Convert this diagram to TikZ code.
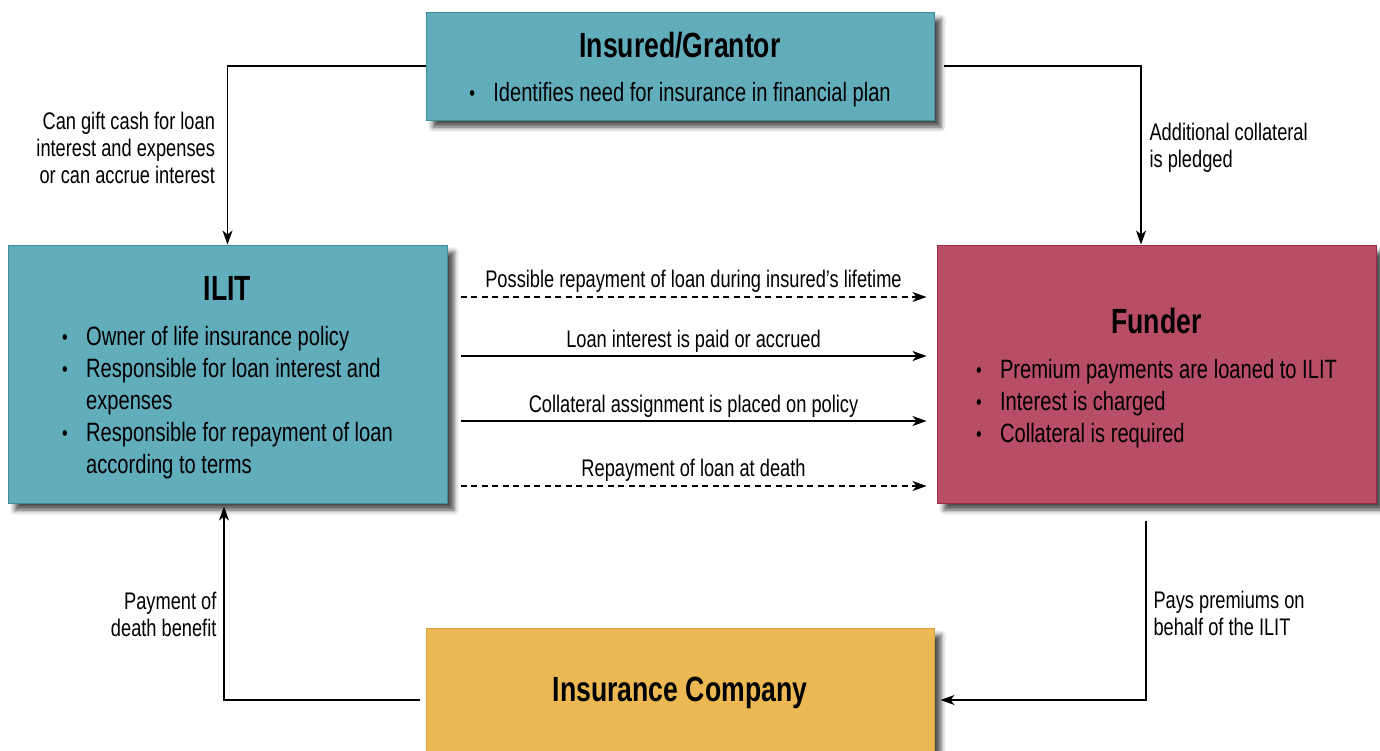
\documentclass[tikz,border=0pt]{standalone}
\usepackage{fontspec}
\setmainfont{Liberation Sans}[FakeStretch=0.76]
\usetikzlibrary{arrows.meta,shadows.blur,positioning}

\definecolor{ilitteal}{HTML}{62ADBB}
\definecolor{ilitedge}{HTML}{3E8C9A}
\definecolor{funderred}{HTML}{B84D66}
\definecolor{funderedge}{HTML}{9E2A4A}
\definecolor{insgold}{HTML}{EBB853}
\definecolor{insedge}{HTML}{D9A33A}

% bullet item and heading used inside the boxes
\newcommand{\itm}[1]{\makebox[24pt][l]{\raisebox{1pt}{\scalebox{0.8}{•}}}#1}
\newcommand{\cont}[1]{\hspace*{24pt}#1}
\newcommand{\ttl}[1]{{\fontsize{35}{40}\selectfont\bfseries #1}}
% box contents, drawn a little lower than centred
\newcommand{\lowered}[1]{\raisebox{-6pt}[\height][\depth]{#1}}

\tikzset{
    box/.style={draw, line width=1pt, rectangle, inner sep=0pt, align=center,
        font=\fontsize{26.5}{32}\selectfont,
        blur shadow={shadow xshift=7pt, shadow yshift=-7pt, shadow blur radius=5pt, shadow opacity=70}},
    flow/.style={line width=1.1pt, -{Stealth[length=14pt, width=10pt, inset=4pt]}},
    dashflow/.style={flow, dash pattern=on 6pt off 4.5pt},
    lbl/.style={font=\fontsize{24}{27}\selectfont, inner sep=0pt}
}

\begin{document}
\begin{tikzpicture}[x=1pt, y=-1pt]
    \useasboundingbox (0,0) rectangle (1380,750);
    % Boxes
    \node[box, fill=ilitteal, draw=ilitedge, minimum width=508pt, minimum height=108pt] (grantor) at (680,66)
        {\lowered{\begin{tabular}{@{}l@{}}\multicolumn{1}{@{}c@{}}{\ttl{Insured/Grantor}}\\[12pt]
        \itm{Identifies need for insurance in financial plan}\end{tabular}}};
    \node[box, fill=ilitteal, draw=ilitedge, minimum width=439pt, minimum height=258pt] (ilit) at (227.5,374)
        {\lowered{\begin{tabular}{@{}l@{}}\multicolumn{1}{@{}c@{}}{\ttl{ILIT}}\\[13pt]
        \itm{Owner of life insurance policy}\\
        \itm{Responsible for loan interest and}\\
        \cont{expenses}\\
        \itm{Responsible for repayment of loan}\\
        \cont{according to terms}\end{tabular}}};
    \node[box, fill=funderred, draw=funderedge, minimum width=439pt, minimum height=258pt] (funder) at (1156.5,374)
        {\lowered{\begin{tabular}{@{}l@{}}\multicolumn{1}{@{}c@{}}{\ttl{Funder}}\\[13pt]
        \itm{Premium payments are loaned to ILIT}\\
        \itm{Interest is charged}\\
        \itm{Collateral is required}\end{tabular}}};
    \node[box, fill=insgold, draw=insedge, minimum width=508pt, minimum height=130pt] (insco) at (680,693)
        {\ttl{Insurance Company}};
    % Grantor to ILIT and Funder
    \draw[flow] (grantor.west) -| (ilit.north)
        node[lbl, pos=0.73, left=12pt, align=right] (giftlbl) {Can gift cash for loan\\interest and expenses\\or can accrue interest};
    \draw[flow] ([xshift=9pt]grantor.east) -| ([xshift=-15.5pt]funder.north)
        node[lbl, pos=0.73, right=8pt, align=left] (collatlbl) {Additional collateral\\is pledged};
    % ILIT to Funder
    \draw[dashflow] ([xshift=13pt, yshift=77pt]ilit.east) -- ([xshift=-10pt, yshift=77pt]funder.west)
        node[lbl, midway, above=4pt] (lifelbl) {Possible repayment of loan during insured’s lifetime};
    \draw[flow] ([xshift=13pt, yshift=18pt]ilit.east) -- ([xshift=-10pt, yshift=18pt]funder.west)
        node[lbl, midway, above=3pt] (intlbl) {Loan interest is paid or accrued};
    \draw[flow] ([xshift=13pt, yshift=-47pt]ilit.east) -- ([xshift=-10pt, yshift=-47pt]funder.west)
        node[lbl, midway, above=3pt] (assignlbl) {Collateral assignment is placed on policy};
    \draw[dashflow] ([xshift=13pt, yshift=-112pt]ilit.east) -- ([xshift=-10pt, yshift=-112pt]funder.west)
        node[lbl, midway, above=4pt] (deathlbl) {Repayment of loan at death};
    % Funder to Insurance Company to ILIT
    \draw[flow] ([xshift=-10.5pt, yshift=-17pt]funder.south) |- ([xshift=6pt, yshift=-7pt]insco.east)
        node[lbl, pos=0.26, right=7pt, align=left] (premlbl) {Pays premiums on\\behalf of the ILIT};
    \draw[flow] ([xshift=-6pt, yshift=-7pt]insco.west) -| ([xshift=-3.5pt, yshift=-3pt]ilit.south)
        node[lbl, pos=0.72, left=7pt, align=right] (benlbl) {Payment of\\death benefit};
\end{tikzpicture}
\end{document}
